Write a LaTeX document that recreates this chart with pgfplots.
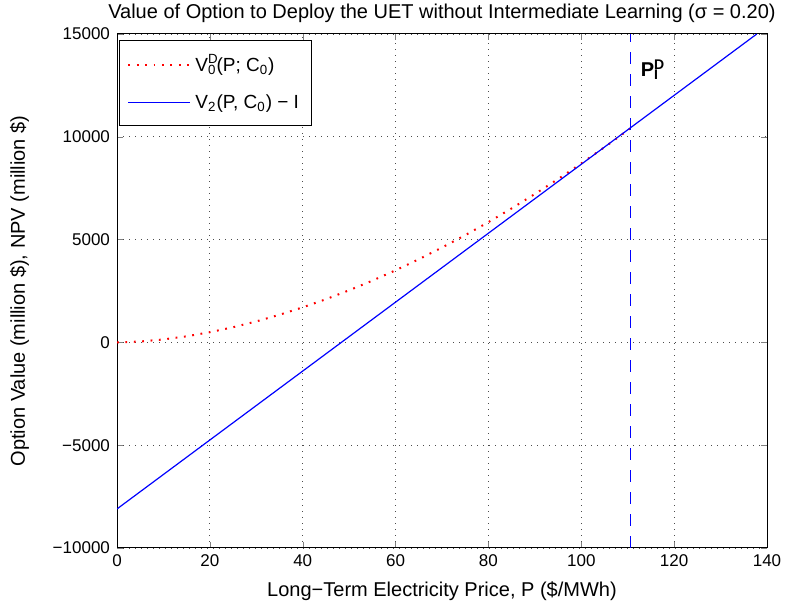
\documentclass[border=0pt]{standalone}
\usepackage{fontspec}
\setmainfont{Liberation Sans}
\usepackage{pgfplots}
\pgfplotsset{compat=1.18}
\usetikzlibrary{calc}

\begin{document}
\begin{tikzpicture}
\begin{axis}[
  width=325pt, height=257pt,
  scale only axis,
  xmin=0, xmax=140, ymin=-10000, ymax=15000,
  xtick={0,20,...,140},
  ytick={-10000,-5000,0,5000,10000,15000},
  yticklabels={−10000,−5000,0,5000,10000,15000},
  scaled ticks=false,
  /pgf/number format/1000 sep={},
  /pgf/number format/assume math mode=true,
  tick label style={font=\fontsize{8.5}{10}\selectfont},
  label style={font=\fontsize{10}{12}\selectfont},
  title style={font=\fontsize{10}{12}\selectfont, yshift=-4pt},
  tick align=inside,
  major tick length=3pt,
  axis line style={line width=0.5pt},
  grid=major,
  major grid style={black!70, line width=0.4pt, dash pattern=on 0.4pt off 2.6pt},
  title={Value of Option to Deploy the UET without Intermediate Learning (σ = 0.20)},
  xlabel={Long−Term Electricity Price, P (\$/MWh)},
  ylabel={Option Value (million \$), NPV (million \$)},
  xlabel style={yshift=-0.5pt},
  ylabel style={yshift=5pt},
  legend style={at={(0.003,0.988)}, anchor=north west, draw=black, line width=0.5pt,
    font=\fontsize{9.5}{11}\selectfont, inner xsep=4pt, inner ysep=5pt,
    row sep=6pt, cells={anchor=west}},
  legend image code/.code={\draw[#1] (0pt,0pt) -- (31pt,0pt);},
]
\addplot[red, line width=1pt, dash pattern=on 0.9pt off 3.3pt] coordinates {
(0,0) (5,42) (10,144) (15,297) (20,496) (25,738) (30,1021) (35,1343)
(40,1704) (45,2101) (50,2535) (55,3003) (60,3507) (65,4043) (70,4613)
(75,5215) (80,5850) (85,6518) (90,7216) (95,7945) (100,8704) (105,9494) (110.5,10397)
};
\addlegendentry{V\rlap{\textsuperscript{D}}\textsubscript{0}(P; C\textsubscript{0})}
\addplot[blue, line width=0.6pt] coordinates {(0,-8100) (137.8,15000)};
\addlegendentry{V\textsubscript{2}(P, C\textsubscript{0}) − I}
\addplot[blue, line width=0.5pt, dash pattern=on 6pt off 5pt, forget plot] coordinates {(110.5,-10000) (110.5,15000)};
\node[font=\fontsize{10}{12}\selectfont\bfseries, anchor=west] at (axis cs:111.3,13250) {\textbf{P}\rlap{\textsuperscript{\textbf{D}}}\textsubscript{\textbf{I}}};
\end{axis}
\pgfresetboundingbox
\path ($(current axis.south west)+(-58.5pt,-30pt)$) rectangle ($(current axis.north east)+(9pt,17pt)$);
\end{tikzpicture}
\end{document}
